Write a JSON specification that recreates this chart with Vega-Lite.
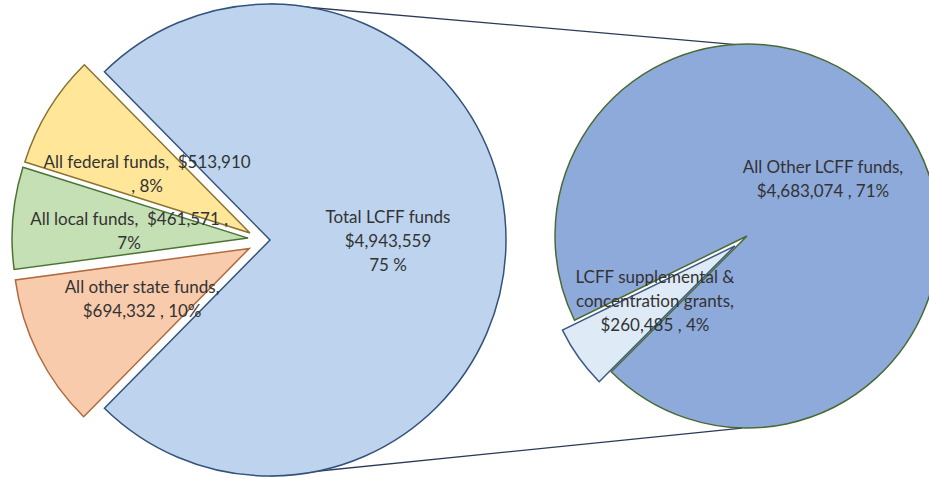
{
  "$schema": "https://vega.github.io/schema/vega-lite/v6.json",
  "width": 929,
  "height": 478,
  "padding": 0,
  "autosize": {"type": "none"},
  "background": "white",
  "config": {"view": {"stroke": null}},
  "datasets": {
    "left": [
      {"name": "Total LCFF funds", "amount": 4943559, "ord": 1, "label": "Total LCFF funds\n$4,943,559\n75 %"},
      {"name": "All other state funds", "amount": 694332, "ord": 2, "label": "All other state funds,\n$694,332 , 10%"},
      {"name": "All local funds", "amount": 461571, "ord": 3, "label": "All local funds,\u00a0 $461,571 ,\n7%"},
      {"name": "All federal funds", "amount": 513910, "ord": 4, "label": "All federal funds,\u00a0 $513,910\n, 8%"}
    ],
    "right": [
      {"name": "LCFF supplemental & concentration grants", "amount": 260485, "ord": 1, "label": "LCFF supplemental &\nconcentration grants,\n$260,485 , 4%"},
      {"name": "All Other LCFF funds", "amount": 4683074, "ord": 2, "label": "All Other LCFF funds,\n$4,683,074 , 71%"}
    ]
  },
  "resolve": {"scale": {"theta": "independent"}},
  "layer": [
    {
      "data": {"values": [{}]},
      "mark": {"type": "rule", "stroke": "#2b3a55", "strokeWidth": 1.3},
      "encoding": {
        "x": {"datum": 0, "type": "quantitative", "scale": {"domain": [-1.1441, 2.7924], "nice": false, "zero": false}, "axis": null},
        "y": {"datum": 1.0, "type": "quantitative", "scale": {"domain": [-1.0085, 1.0169], "nice": false, "zero": false}, "axis": null},
        "x2": {"datum": 2.0},
        "y2": {"datum": 0.826}
      }
    },
    {
      "data": {"values": [{}]},
      "mark": {"type": "rule", "stroke": "#2b3a55", "strokeWidth": 1.3},
      "encoding": {
        "x": {"datum": 0, "type": "quantitative", "scale": {"domain": [-1.1441, 2.7924], "nice": false, "zero": false}, "axis": null},
        "y": {"datum": -1.0, "type": "quantitative", "scale": {"domain": [-1.0085, 1.0169], "nice": false, "zero": false}, "axis": null},
        "x2": {"datum": 2.0},
        "y2": {"datum": -0.797}
      }
    },
    {
      "data": {"name": "left"},
      "mark": {"type": "arc", "outerRadius": 236, "strokeWidth": 1.5},
      "encoding": {
        "x": {"datum": 0, "type": "quantitative", "scale": {"domain": [-1.1441, 2.7924], "nice": false, "zero": false}, "axis": null},
        "y": {"datum": 0, "type": "quantitative", "scale": {"domain": [-1.0085, 1.0169], "nice": false, "zero": false}, "axis": null},
        "theta": {"field": "amount", "type": "quantitative", "stack": true, "scale": {"range": [5.5056, 11.7888]}},
        "order": {"field": "ord", "type": "quantitative"},
        "fill": {"field": "name", "type": "nominal", "legend": null, "scale": {"domain": ["Total LCFF funds", "All other state funds", "All local funds", "All federal funds", "LCFF supplemental & concentration grants", "All Other LCFF funds"], "range": ["#bed4ee", "#f8cbad", "#c5e0b4", "#ffe699", "#deebf7", "#8eaadb"]}},
        "stroke": {"field": "name", "type": "nominal", "legend": null, "scale": {"domain": ["Total LCFF funds", "All other state funds", "All local funds", "All federal funds", "LCFF supplemental & concentration grants", "All Other LCFF funds"], "range": ["#34527a", "#b06a3e", "#4b7433", "#8a7330", "#3a5a82", "#4a6a34"]}},
        "opacity": {"condition": {"test": "datum.ord === 1", "value": 1}, "value": 0}
      }
    },
    {
      "data": {"name": "left"},
      "mark": {"type": "arc", "outerRadius": 236, "strokeWidth": 1.5},
      "encoding": {
        "x": {"datum": -0.088, "type": "quantitative", "scale": {"domain": [-1.1441, 2.7924], "nice": false, "zero": false}, "axis": null},
        "y": {"datum": -0.036, "type": "quantitative", "scale": {"domain": [-1.0085, 1.0169], "nice": false, "zero": false}, "axis": null},
        "theta": {"field": "amount", "type": "quantitative", "stack": true, "scale": {"range": [5.5056, 11.7888]}},
        "order": {"field": "ord", "type": "quantitative"},
        "fill": {"field": "name", "type": "nominal", "legend": null},
        "stroke": {"field": "name", "type": "nominal", "legend": null},
        "opacity": {"condition": {"test": "datum.ord === 2", "value": 1}, "value": 0}
      }
    },
    {
      "data": {"name": "left"},
      "mark": {"type": "arc", "outerRadius": 236, "strokeWidth": 1.5},
      "encoding": {
        "x": {"datum": -0.093, "type": "quantitative", "scale": {"domain": [-1.1441, 2.7924], "nice": false, "zero": false}, "axis": null},
        "y": {"datum": 0.008, "type": "quantitative", "scale": {"domain": [-1.0085, 1.0169], "nice": false, "zero": false}, "axis": null},
        "theta": {"field": "amount", "type": "quantitative", "stack": true, "scale": {"range": [5.5056, 11.7888]}},
        "order": {"field": "ord", "type": "quantitative"},
        "fill": {"field": "name", "type": "nominal", "legend": null},
        "stroke": {"field": "name", "type": "nominal", "legend": null},
        "opacity": {"condition": {"test": "datum.ord === 3", "value": 1}, "value": 0}
      }
    },
    {
      "data": {"name": "left"},
      "mark": {"type": "arc", "outerRadius": 236, "strokeWidth": 1.5},
      "encoding": {
        "x": {"datum": -0.085, "type": "quantitative", "scale": {"domain": [-1.1441, 2.7924], "nice": false, "zero": false}, "axis": null},
        "y": {"datum": 0.03, "type": "quantitative", "scale": {"domain": [-1.0085, 1.0169], "nice": false, "zero": false}, "axis": null},
        "theta": {"field": "amount", "type": "quantitative", "stack": true, "scale": {"range": [5.5056, 11.7888]}},
        "order": {"field": "ord", "type": "quantitative"},
        "fill": {"field": "name", "type": "nominal", "legend": null},
        "stroke": {"field": "name", "type": "nominal", "legend": null},
        "opacity": {"condition": {"test": "datum.ord === 4", "value": 1}, "value": 0}
      }
    },
    {
      "data": {"name": "right"},
      "mark": {"type": "arc", "outerRadius": 192, "strokeWidth": 1.5},
      "encoding": {
        "x": {"datum": 2.0212, "type": "quantitative", "scale": {"domain": [-1.1441, 2.7924], "nice": false, "zero": false}, "axis": null},
        "y": {"datum": 0.0169, "type": "quantitative", "scale": {"domain": [-1.0085, 1.0169], "nice": false, "zero": false}, "axis": null},
        "theta": {"field": "amount", "type": "quantitative", "stack": true, "scale": {"range": [3.927, 10.2102]}},
        "order": {"field": "ord", "type": "quantitative"},
        "fill": {"field": "name", "type": "nominal", "legend": null},
        "stroke": {"field": "name", "type": "nominal", "legend": null},
        "opacity": {"condition": {"test": "datum.ord === 2", "value": 1}, "value": 0}
      }
    },
    {
      "data": {"name": "right"},
      "mark": {"type": "arc", "outerRadius": 192, "strokeWidth": 1.5},
      "encoding": {
        "x": {"datum": 1.9702, "type": "quantitative", "scale": {"domain": [-1.1441, 2.7924], "nice": false, "zero": false}, "axis": null},
        "y": {"datum": -0.0251, "type": "quantitative", "scale": {"domain": [-1.0085, 1.0169], "nice": false, "zero": false}, "axis": null},
        "theta": {"field": "amount", "type": "quantitative", "stack": true, "scale": {"range": [3.927, 10.2102]}},
        "order": {"field": "ord", "type": "quantitative"},
        "fill": {"field": "name", "type": "nominal", "legend": null},
        "stroke": {"field": "name", "type": "nominal", "legend": null},
        "opacity": {"condition": {"test": "datum.ord === 1", "value": 1}, "value": 0}
      }
    },
    {
      "data": {"name": "left"},
      "transform": [{"filter": "datum.name === 'All federal funds'"}],
      "mark": {"type": "text", "font": "Lato", "fontSize": 17, "lineHeight": 24, "lineBreak": "\n", "align": "center", "baseline": "middle", "fill": "#333333"},
      "encoding": {
        "x": {"datum": -0.521, "type": "quantitative", "scale": {"domain": [-1.1441, 2.7924], "nice": false, "zero": false}, "axis": null},
        "y": {"datum": 0.326, "type": "quantitative", "scale": {"domain": [-1.0085, 1.0169], "nice": false, "zero": false}, "axis": null},
        "text": {"field": "label", "type": "nominal"}
      }
    },
    {
      "data": {"name": "left"},
      "transform": [{"filter": "datum.name === 'All local funds'"}],
      "mark": {"type": "text", "font": "Lato", "fontSize": 17, "lineHeight": 24, "lineBreak": "\n", "align": "center", "baseline": "middle", "fill": "#333333"},
      "encoding": {
        "x": {"datum": -0.597, "type": "quantitative", "scale": {"domain": [-1.1441, 2.7924], "nice": false, "zero": false}, "axis": null},
        "y": {"datum": 0.0847, "type": "quantitative", "scale": {"domain": [-1.0085, 1.0169], "nice": false, "zero": false}, "axis": null},
        "text": {"field": "label", "type": "nominal"}
      }
    },
    {
      "data": {"name": "left"},
      "transform": [{"filter": "datum.name === 'All other state funds'"}],
      "mark": {"type": "text", "font": "Lato", "fontSize": 17, "lineHeight": 24, "lineBreak": "\n", "align": "center", "baseline": "middle", "fill": "#333333"},
      "encoding": {
        "x": {"datum": -0.542, "type": "quantitative", "scale": {"domain": [-1.1441, 2.7924], "nice": false, "zero": false}, "axis": null},
        "y": {"datum": -0.203, "type": "quantitative", "scale": {"domain": [-1.0085, 1.0169], "nice": false, "zero": false}, "axis": null},
        "text": {"field": "label", "type": "nominal"}
      }
    },
    {
      "data": {"name": "left"},
      "transform": [{"filter": "datum.name === 'Total LCFF funds'"}],
      "mark": {"type": "text", "font": "Lato", "fontSize": 17, "lineHeight": 24, "lineBreak": "\n", "align": "center", "baseline": "middle", "fill": "#333333"},
      "encoding": {
        "x": {"datum": 0.5, "type": "quantitative", "scale": {"domain": [-1.1441, 2.7924], "nice": false, "zero": false}, "axis": null},
        "y": {"datum": 0.0932, "type": "quantitative", "scale": {"domain": [-1.0085, 1.0169], "nice": false, "zero": false}, "axis": null},
        "text": {"field": "label", "type": "nominal"}
      }
    },
    {
      "data": {"name": "right"},
      "transform": [{"filter": "datum.name === 'All Other LCFF funds'"}],
      "mark": {"type": "text", "font": "Lato", "fontSize": 17, "lineHeight": 24, "lineBreak": "\n", "align": "center", "baseline": "middle", "fill": "#333333"},
      "encoding": {
        "x": {"datum": 2.343, "type": "quantitative", "scale": {"domain": [-1.1441, 2.7924], "nice": false, "zero": false}, "axis": null},
        "y": {"datum": 0.305, "type": "quantitative", "scale": {"domain": [-1.0085, 1.0169], "nice": false, "zero": false}, "axis": null},
        "text": {"field": "label", "type": "nominal"}
      }
    },
    {
      "data": {"name": "right"},
      "transform": [{"filter": "datum.name === 'LCFF supplemental & concentration grants'"}],
      "mark": {"type": "text", "font": "Lato", "fontSize": 17, "lineHeight": 24, "lineBreak": "\n", "align": "center", "baseline": "middle", "fill": "#333333"},
      "encoding": {
        "x": {"datum": 1.631, "type": "quantitative", "scale": {"domain": [-1.1441, 2.7924], "nice": false, "zero": false}, "axis": null},
        "y": {"datum": -0.161, "type": "quantitative", "scale": {"domain": [-1.0085, 1.0169], "nice": false, "zero": false}, "axis": null},
        "text": {"field": "label", "type": "nominal"}
      }
    }
  ]
}
